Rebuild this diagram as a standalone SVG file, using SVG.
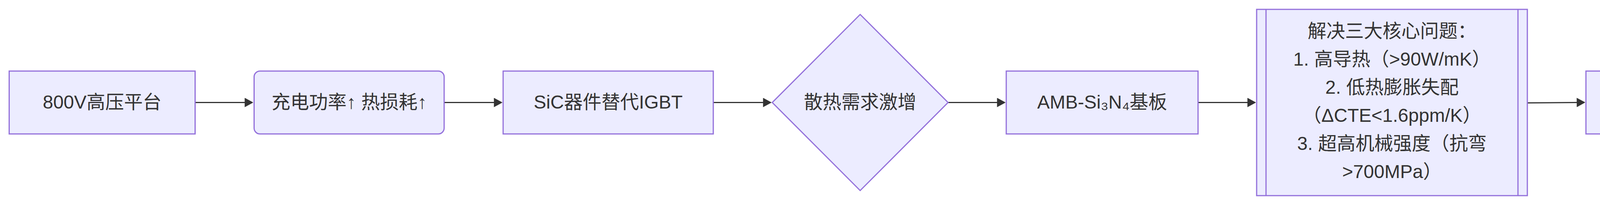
<svg xmlns="http://www.w3.org/2000/svg" width="4804" height="525" viewBox="0 0 4804 525">
<style>
.node{fill:#ECECFF;stroke:#9370DB;stroke-width:3}
.inner{stroke:#9370DB;stroke-width:3;fill:none}
.lbl{font-family:"Liberation Sans","Noto Sans CJK SC",sans-serif;font-size:48px;fill:#333333;text-anchor:middle}
.edge{stroke:#333333;stroke-width:3;fill:none}
</style>
<defs>
<marker id="arrow" viewBox="0 0 11 12" markerWidth="22" markerHeight="24" markerUnits="userSpaceOnUse" refX="0.3" refY="6" orient="auto">
<path d="M0,0 L11,6 L0,12 z" fill="#333333"/>
</marker>
</defs>
<rect width="4804" height="525" fill="#FFFFFF"/>
<g id="connectors">
<path class="edge" d="M499.5,262.5 L627,262.5" marker-end="url(#arrow)"/>
<path class="edge" d="M1137,262.5 L1265,262.5" marker-end="url(#arrow)"/>
<path class="edge" d="M1826,262.5 L1954,262.5" marker-end="url(#arrow)"/>
<path class="edge" d="M2427,262.5 L2553,262.5" marker-end="url(#arrow)"/>
<path class="edge" d="M3067,262.5 L3194,262.5" marker-end="url(#arrow)"/>
<path class="edge" d="M3910,263.5 L4037,262.5" marker-end="url(#arrow)"/>
</g>
<g id="n1">
<rect class="node" x="23.5" y="182" width="476" height="161"/>
<text class="lbl" x="261.5" y="277.5">800V高压平台</text>
</g>
<g id="n2">
<rect class="node" x="650.5" y="182" width="486.5" height="161" rx="15" ry="15"/>
<text class="lbl" x="894" y="277.5">充电功率↑ 热损耗↑</text>
</g>
<g id="n3">
<rect class="node" x="1288" y="182" width="538" height="161"/>
<text class="lbl" x="1557" y="277.5">SiC器件替代IGBT</text>
</g>
<g id="n4">
<polygon class="node" points="2202,37 2427,262.5 2202,488 1977,262.5"/>
<text class="lbl" x="2202" y="277.5">散热需求激增</text>
</g>
<g id="n5">
<rect class="node" x="2576" y="182" width="491" height="161"/>
<text class="lbl" x="2821.5" y="277.5">AMB-Si₃N₄基板</text>
</g>
<g id="n6">
<rect class="node" x="3217" y="24" width="693" height="477"/>
<line class="inner" x1="3241" y1="24" x2="3241" y2="501"/>
<line class="inner" x1="3886" y1="24" x2="3886" y2="501"/>
<text class="lbl" x="3563.5" y="95.5">解决三大核心问题：</text>
<text class="lbl" x="3563.5" y="167.5">1. 高导热（&gt;90W/mK）</text>
<text class="lbl" x="3563.5" y="239.5">2. 低热膨胀失配</text>
<text class="lbl" x="3563.5" y="311.5">（ΔCTE&lt;1.6ppm/K）</text>
<text class="lbl" x="3563.5" y="383.5">3. 超高机械强度（抗弯</text>
<text class="lbl" x="3563.5" y="455.5">&gt;700MPa）</text>
</g>
<g id="n7">
<rect class="node" x="4060" y="182" width="720" height="161"/>
<text class="lbl" x="4420" y="277.5">实现功率密度&gt;500W/cm²</text>
</g>
</svg>
